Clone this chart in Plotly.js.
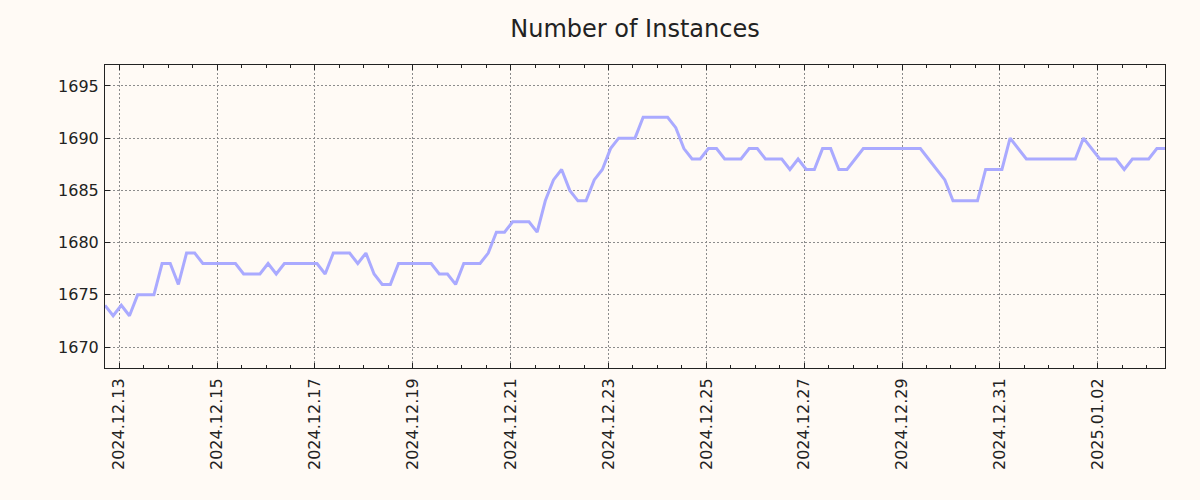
<!DOCTYPE html>
<html>
<head>
<meta charset="utf-8">
<script src="https://cdn.plot.ly/plotly-3.0.1.min.js"></script>
<style>
  html, body { margin: 0; padding: 0; background: #fffaf5; }
  #chart { width: 1200px; height: 500px; }
</style>
</head>
<body>
<div id="chart"></div>
<script>
// Sample times (every 4 hours), grouped by day
const times = [
  '2024-12-12 17:00','2024-12-12 21:00',
  '2024-12-13 01:00','2024-12-13 05:00','2024-12-13 09:00','2024-12-13 13:00','2024-12-13 17:00','2024-12-13 21:00',
  '2024-12-14 01:00','2024-12-14 05:00','2024-12-14 09:00','2024-12-14 13:00','2024-12-14 17:00','2024-12-14 21:00',
  '2024-12-15 01:00','2024-12-15 05:00','2024-12-15 09:00','2024-12-15 13:00','2024-12-15 17:00','2024-12-15 21:00',
  '2024-12-16 01:00','2024-12-16 05:00','2024-12-16 09:00','2024-12-16 13:00','2024-12-16 17:00','2024-12-16 21:00',
  '2024-12-17 01:00','2024-12-17 05:00','2024-12-17 09:00','2024-12-17 13:00','2024-12-17 17:00','2024-12-17 21:00',
  '2024-12-18 01:00','2024-12-18 05:00','2024-12-18 09:00','2024-12-18 13:00','2024-12-18 17:00','2024-12-18 21:00',
  '2024-12-19 01:00','2024-12-19 05:00','2024-12-19 09:00','2024-12-19 13:00','2024-12-19 17:00','2024-12-19 21:00',
  '2024-12-20 01:00','2024-12-20 05:00','2024-12-20 09:00','2024-12-20 13:00','2024-12-20 17:00','2024-12-20 21:00',
  '2024-12-21 01:00','2024-12-21 05:00','2024-12-21 09:00','2024-12-21 13:00','2024-12-21 17:00','2024-12-21 21:00',
  '2024-12-22 01:00','2024-12-22 05:00','2024-12-22 09:00','2024-12-22 13:00','2024-12-22 17:00','2024-12-22 21:00',
  '2024-12-23 01:00','2024-12-23 05:00','2024-12-23 09:00','2024-12-23 13:00','2024-12-23 17:00','2024-12-23 21:00',
  '2024-12-24 01:00','2024-12-24 05:00','2024-12-24 09:00','2024-12-24 13:00','2024-12-24 17:00','2024-12-24 21:00',
  '2024-12-25 01:00','2024-12-25 05:00','2024-12-25 09:00','2024-12-25 13:00','2024-12-25 17:00','2024-12-25 21:00',
  '2024-12-26 01:00','2024-12-26 05:00','2024-12-26 09:00','2024-12-26 13:00','2024-12-26 17:00','2024-12-26 21:00',
  '2024-12-27 01:00','2024-12-27 05:00','2024-12-27 09:00','2024-12-27 13:00','2024-12-27 17:00','2024-12-27 21:00',
  '2024-12-28 01:00','2024-12-28 05:00','2024-12-28 09:00','2024-12-28 13:00','2024-12-28 17:00','2024-12-28 21:00',
  '2024-12-29 01:00','2024-12-29 05:00','2024-12-29 09:00','2024-12-29 13:00','2024-12-29 17:00','2024-12-29 21:00',
  '2024-12-30 01:00','2024-12-30 05:00','2024-12-30 09:00','2024-12-30 13:00','2024-12-30 17:00','2024-12-30 21:00',
  '2024-12-31 01:00','2024-12-31 05:00','2024-12-31 09:00','2024-12-31 13:00','2024-12-31 17:00','2024-12-31 21:00',
  '2025-01-01 01:00','2025-01-01 05:00','2025-01-01 09:00','2025-01-01 13:00','2025-01-01 17:00','2025-01-01 21:00',
  '2025-01-02 01:00','2025-01-02 05:00','2025-01-02 09:00','2025-01-02 13:00','2025-01-02 17:00','2025-01-02 21:00',
  '2025-01-03 01:00','2025-01-03 05:00','2025-01-03 09:00'
];

// Number of instances at each sample time
const instances = [
  1674, 1673,
  1674, 1673, 1675, 1675, 1675, 1678,
  1678, 1676, 1679, 1679, 1678, 1678,
  1678, 1678, 1678, 1677, 1677, 1677,
  1678, 1677, 1678, 1678, 1678, 1678,
  1678, 1677, 1679, 1679, 1679, 1678,
  1679, 1677, 1676, 1676, 1678, 1678,
  1678, 1678, 1678, 1677, 1677, 1676,
  1678, 1678, 1678, 1679, 1681, 1681,
  1682, 1682, 1682, 1681, 1684, 1686,
  1687, 1685, 1684, 1684, 1686, 1687,
  1689, 1690, 1690, 1690, 1692, 1692,
  1692, 1692, 1691, 1689, 1688, 1688,
  1689, 1689, 1688, 1688, 1688, 1689,
  1689, 1688, 1688, 1688, 1687, 1688,
  1687, 1687, 1689, 1689, 1687, 1687,
  1688, 1689, 1689, 1689, 1689, 1689,
  1689, 1689, 1689, 1688, 1687, 1686,
  1684, 1684, 1684, 1684, 1687, 1687,
  1687, 1690, 1689, 1688, 1688, 1688,
  1688, 1688, 1688, 1688, 1690, 1689,
  1688, 1688, 1688, 1687, 1688, 1688,
  1688, 1689, 1689
];

const chartTitle = 'Number of Instances';
const xRange = ['2024-12-12 17:00', '2025-01-03 09:00'];
const yRange = [1668, 1697];

const FONT = 'DejaVu Sans, Liberation Sans, sans-serif';
const INK = '#222222';
const BG = '#fffaf5';

const trace = {
  x: times,
  y: instances,
  type: 'scatter',
  mode: 'lines',
  line: { color: '#aaaaff', width: 3 },
  hoverinfo: 'x+y'
};

const layout = {
  width: 1200,
  height: 500,
  paper_bgcolor: BG,
  plot_bgcolor: BG,
  showlegend: false,
  margin: { l: 105, r: 35, t: 65, b: 132, pad: 0 },
  title: {
    text: chartTitle,
    font: { family: FONT, size: 24, color: INK },
    x: 0.5, xref: 'paper', xanchor: 'center',
    y: 0.942, yref: 'container', yanchor: 'middle'
  },
  xaxis: {
    type: 'date',
    range: xRange,
    tick0: '2024-12-13',
    dtick: 2 * 86400000,
    tickformat: '%Y.%m.%d',
    tickangle: -90,
    ticks: 'inside',
    ticklen: 5,
    tickwidth: 1,
    tickcolor: INK,
    mirror: 'allticks',
    showline: true,
    linecolor: INK,
    linewidth: 1,
    showgrid: true,
    gridcolor: '#8c8c8c',
    griddash: '2px,2px',
    gridwidth: 1,
    zeroline: false,
    tickfont: { family: FONT, size: 16, color: INK },
    ticklabelstandoff: 3,
    minor: {
      tick0: '2024-12-13',
      dtick: 12 * 3600000,
      ticks: 'inside',
      ticklen: 3,
      tickwidth: 1,
      tickcolor: INK,
      showgrid: false
    }
  },
  yaxis: {
    range: yRange,
    tick0: 1670,
    dtick: 5,
    ticks: 'inside',
    ticklen: 5,
    tickwidth: 1,
    tickcolor: INK,
    mirror: 'allticks',
    showline: true,
    linecolor: INK,
    linewidth: 1,
    showgrid: true,
    gridcolor: '#8c8c8c',
    griddash: '2px,2px',
    gridwidth: 1,
    zeroline: false,
    tickfont: { family: FONT, size: 16, color: INK },
    ticklabelstandoff: 2
  }
};

Plotly.newPlot('chart', [trace], layout, { displayModeBar: false, staticPlot: true });
</script>
</body>
</html>
